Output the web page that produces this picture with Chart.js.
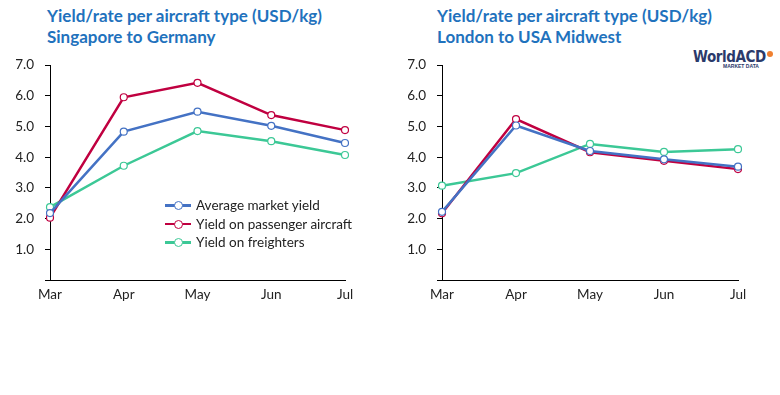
<!DOCTYPE html>
<html><head><meta charset="utf-8">
<script src="https://cdn.jsdelivr.net/npm/chart.js@4/dist/chart.umd.min.js"></script>
<style>
html,body{margin:0;padding:0;background:#fff;width:780px;height:395px;overflow:hidden;font-family:Lato,sans-serif;}
.title{position:absolute;color:#1F72BD;font-weight:bold;font-size:17px;line-height:21px;white-space:nowrap;}
canvas{position:absolute;}
#legend{position:absolute;left:165px;top:196px;font-size:13.5px;color:#222;}
.row{position:relative;height:18.5px;line-height:18.5px;padding-left:31px;white-space:nowrap;}
.sw{position:absolute;left:0;top:8px;width:26px;height:2.5px;}
.dot{position:absolute;left:9px;top:-3px;width:7px;height:7px;border-radius:50%;background:#fff;border:1px solid;}
#logo{position:absolute;left:693px;top:48px;color:#2B3A6B;font-weight:bold;font-size:15px;letter-spacing:-0.4px;font-family:"Liberation Sans Narrow","DejaVu Sans Condensed",sans-serif;}
#logo .o{display:inline-block;width:6px;height:6px;border-radius:50%;background:#F08030;vertical-align:top;margin-top:3px;margin-left:1px;}
#logo2{position:absolute;left:723px;top:63px;color:#2B3A6B;font-size:5px;font-weight:bold;font-family:sans-serif;}
</style></head>
<body>
<div class="title" style="left:47px;top:5px;">Yield/rate per aircraft type (USD/kg)<br>Singapore to Germany</div>
<div class="title" style="left:437px;top:5px;">Yield/rate per aircraft type (USD/kg)<br>London to USA Midwest</div>
<div id="logo">WorldACD<span class="o"></span></div>
<div id="logo2">MARKET DATA</div>
<canvas id="c1" width="390" height="260" style="left:0;top:50px;width:390px;height:260px;"></canvas>
<canvas id="c2" width="390" height="260" style="left:390px;top:50px;width:390px;height:260px;"></canvas>
<div id="legend"></div>
<script>
const months = ["Mar","Apr","May","Jun","Jul"];
const seriesNames = ["Average market yield","Yield on passenger aircraft","Yield on freighters"];
const seriesColors = ["#4472C4","#C00040","#3CC896"];
const sgAverage   = [2.18, 4.83, 5.48, 5.02, 4.46];
const sgPassenger = [2.03, 5.95, 6.42, 5.37, 4.88];
const sgFreighter = [2.37, 3.72, 4.85, 4.52, 4.07];
const lnAverage   = [2.22, 5.03, 4.20, 3.93, 3.69];
const lnPassenger = [2.17, 5.24, 4.16, 3.88, 3.61];
const lnFreighter = [3.07, 3.48, 4.43, 4.17, 4.26];
const yTicks = [1,2,3,4,5,6,7];

function ds(label, data, color){
  return {label, data, borderColor: color, backgroundColor: '#fff', borderWidth: 2.5,
    pointRadius: 3.5, pointBorderWidth: 1.2, pointBackgroundColor: '#fff', pointBorderColor: color,
    tension: 0, fill: false};
}
function make(id, sets, leftW, padRight){
  new Chart(document.getElementById(id), {
    type: 'line',
    data: { labels: months, datasets: sets },
    options: {
      responsive: false, animation: false,
      layout: { padding: { top: 15, right: padRight, bottom: 0, left: 0 } },
      plugins: { legend: { display: false }, tooltip: { enabled: false } },
      scales: {
        x: { offset: false,
          grid: { display: false, drawTicks: false },
          border: { display: true, color: '#000', width: 1 },
          ticks: { color: '#222', padding: 7, font: { family: 'Lato', size: 13.5 } },
          afterFit: s => { s.height = 30; s.paddingLeft = 0; s.paddingRight = 0; } },
        y: { min: 0, max: 7,
          grid: { display: true, drawOnChartArea: false, drawTicks: true, tickLength: 5, color: '#000' },
          border: { display: true, color: '#000', width: 1 },
          ticks: { stepSize: 1, color: '#222', padding: 11, font: { family: 'Lato', size: 13.5 },
            callback: v => yTicks.includes(v) ? v.toFixed(1) : '' },
          afterFit: s => { s.width = leftW; s.paddingTop = 0; s.paddingBottom = 0; } }
      }
    }
  });
}
make('c1', [ds(seriesNames[0], sgAverage, seriesColors[0]), ds(seriesNames[1], sgPassenger, seriesColors[1]), ds(seriesNames[2], sgFreighter, seriesColors[2])], 50, 45);
make('c2', [ds(seriesNames[0], lnAverage, seriesColors[0]), ds(seriesNames[1], lnPassenger, seriesColors[1]), ds(seriesNames[2], lnFreighter, seriesColors[2])], 52, 42);

const lg = document.getElementById('legend');
seriesNames.forEach((n,i)=>{
  const r = document.createElement('div'); r.className='row';
  r.innerHTML = '<span class="sw" style="background:'+seriesColors[i]+'"><span class="dot" style="border-color:'+seriesColors[i]+'"></span></span>' + n;
  lg.appendChild(r);
});
</script>
</body></html>
